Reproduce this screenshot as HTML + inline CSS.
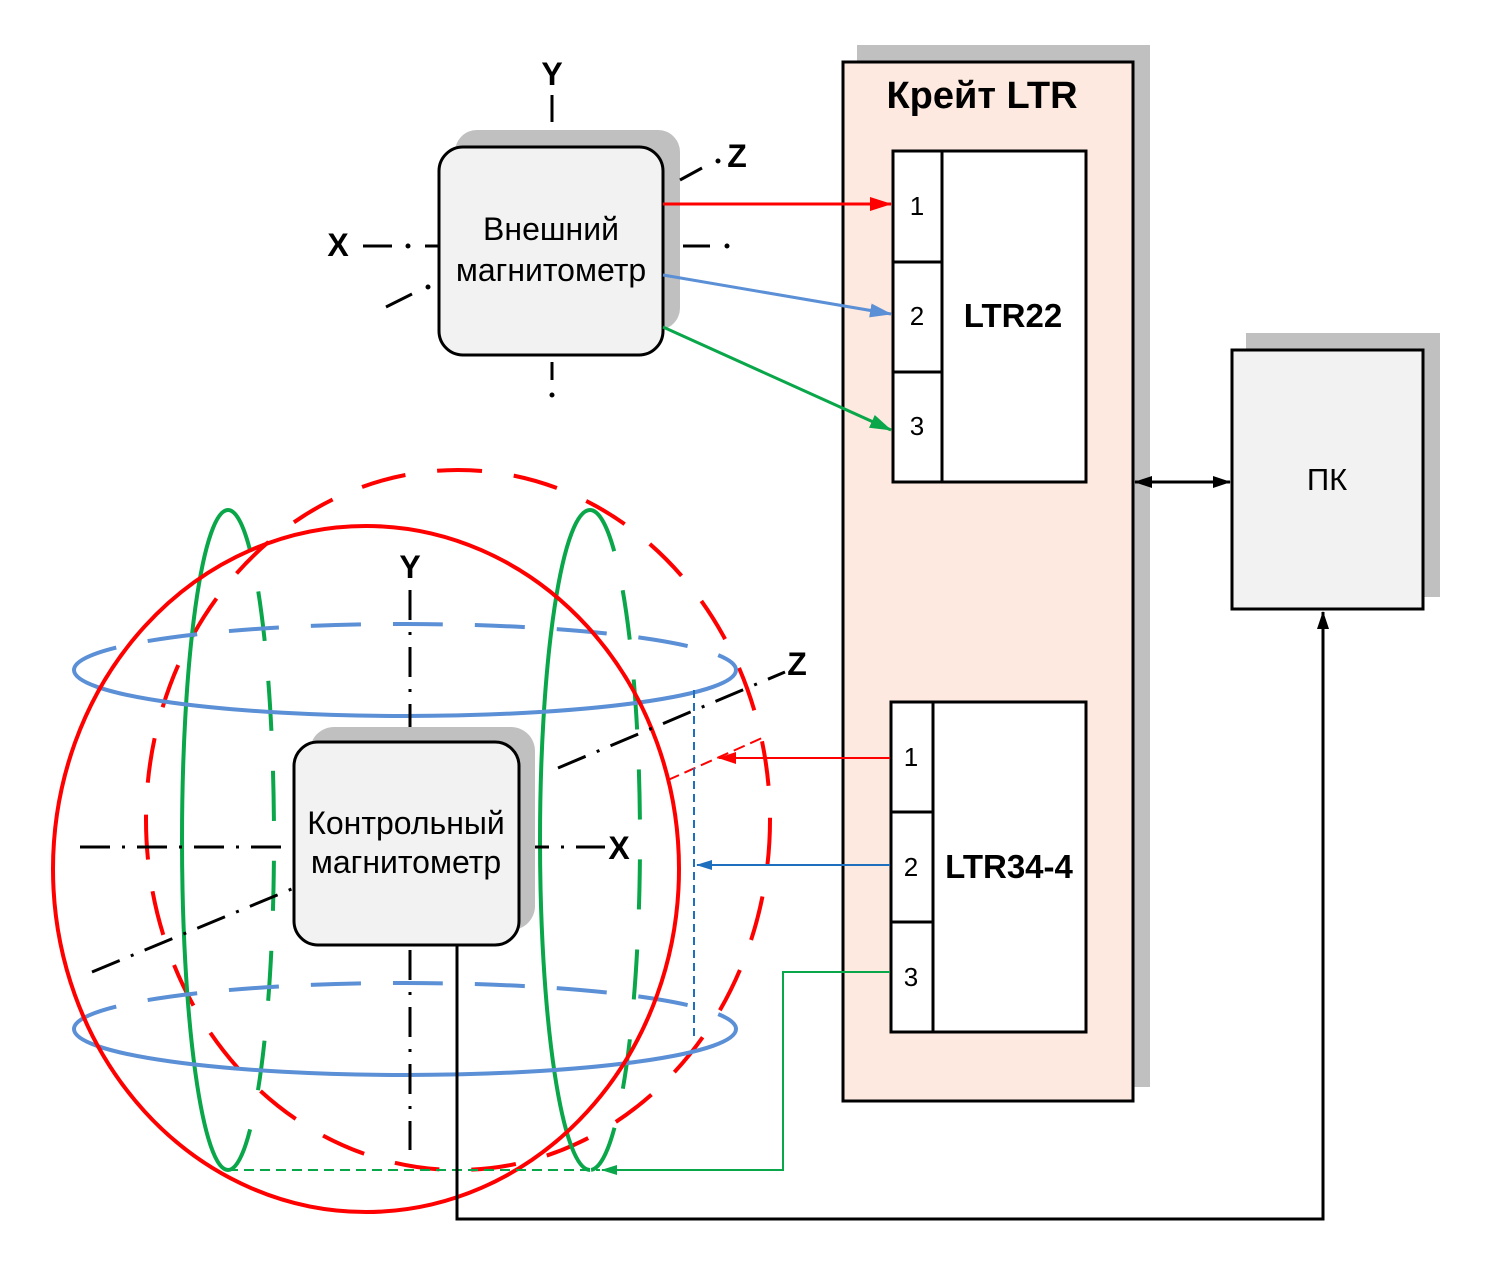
<!DOCTYPE html>
<html><head><meta charset="utf-8"><style>body{margin:0;background:#fff}svg{display:block}text{font-family:"Liberation Sans",sans-serif}</style></head><body>
<svg width="1488" height="1266" viewBox="0 0 1488 1266" xmlns="http://www.w3.org/2000/svg">
<defs>
<marker id="ar" markerWidth="22" markerHeight="14" refX="21" refY="7" orient="auto" markerUnits="userSpaceOnUse" viewBox="0 0 22 14"><path d="M0,0 L22,7 L0,14z" fill="red"/></marker>
<marker id="ab" markerWidth="22" markerHeight="14" refX="21" refY="7" orient="auto" viewBox="0 0 22 14" markerUnits="userSpaceOnUse"><path d="M0,0 L22,7 L0,14z" fill="#5b8fd6"/></marker>
<marker id="ag" markerWidth="22" markerHeight="14" refX="21" refY="7" orient="auto" viewBox="0 0 22 14" markerUnits="userSpaceOnUse"><path d="M0,0 L22,7 L0,14z" fill="#0aa64a"/></marker>
<marker id="ar2" markerWidth="18" markerHeight="12" refX="17" refY="6" orient="auto" markerUnits="userSpaceOnUse" viewBox="0 0 18 12"><path d="M0,0 L18,6 L0,12z" fill="red"/></marker>
<marker id="ab2" markerWidth="16" markerHeight="10" refX="15" refY="5" orient="auto" viewBox="0 0 16 10" markerUnits="userSpaceOnUse"><path d="M0,0 L16,5 L0,10z" fill="#1f6fbf"/></marker>
<marker id="ag2" markerWidth="16" markerHeight="10" refX="15" refY="5" orient="auto" viewBox="0 0 16 10" markerUnits="userSpaceOnUse"><path d="M0,0 L16,5 L0,10z" fill="#0aa64a"/></marker>
<marker id="ak" markerWidth="18" markerHeight="12" refX="17" refY="6" orient="auto-start-reverse" viewBox="0 0 18 12" markerUnits="userSpaceOnUse"><path d="M0,0 L18,6 L0,12z" fill="#000"/></marker>
</defs>

<rect x="857" y="45" width="293" height="1042" fill="#c0c0c0"/>
<rect x="843" y="62" width="290" height="1039" fill="#fde9df" stroke="#000" stroke-width="3"/>
<text x="982" y="108" font-size="38" font-weight="bold" text-anchor="middle">Крейт LTR</text>
<rect x="893" y="151" width="193" height="331" fill="#fff" stroke="#000" stroke-width="3"/>
<line x1="942" y1="151" x2="942" y2="482" stroke="#000" stroke-width="3"/>
<line x1="893" y1="262" x2="942" y2="262" stroke="#000" stroke-width="3"/>
<line x1="893" y1="372" x2="942" y2="372" stroke="#000" stroke-width="3"/>
<g font-size="26" text-anchor="middle"><text x="917" y="215">1</text><text x="917" y="325">2</text><text x="917" y="435">3</text></g>
<text x="1013" y="327" font-size="33" font-weight="bold" text-anchor="middle">LTR22</text>
<rect x="891" y="702" width="195" height="330" fill="#fff" stroke="#000" stroke-width="3"/>
<line x1="933" y1="702" x2="933" y2="1032" stroke="#000" stroke-width="3"/>
<line x1="891" y1="812" x2="933" y2="812" stroke="#000" stroke-width="3"/>
<line x1="891" y1="922" x2="933" y2="922" stroke="#000" stroke-width="3"/>
<g font-size="26" text-anchor="middle"><text x="911" y="766">1</text><text x="911" y="876">2</text><text x="911" y="986">3</text></g>
<text x="1009" y="878" font-size="33" font-weight="bold" text-anchor="middle">LTR34-4</text>

<rect x="1246" y="333" width="194" height="264" fill="#c0c0c0"/>
<rect x="1232" y="350" width="191" height="259" fill="#f2f2f2" stroke="#000" stroke-width="3"/>
<text x="1327" y="490" font-size="31" text-anchor="middle">ПК</text>
<line x1="1135" y1="482" x2="1230" y2="482" stroke="#000" stroke-width="3" marker-start="url(#ak)" marker-end="url(#ak)"/>

<rect x="455" y="130" width="225" height="200" rx="22" fill="#c0c0c0"/>
<rect x="439" y="147" width="224" height="208" rx="24" fill="#f2f2f2" stroke="#000" stroke-width="3"/>
<text x="551" y="240" font-size="32" text-anchor="middle">Внешний</text>
<text x="551" y="281" font-size="32" text-anchor="middle">магнитометр</text>
<g stroke="#000" stroke-width="3">
<line x1="552" y1="95" x2="552" y2="122"/><line x1="552" y1="362" x2="552" y2="380"/><circle cx="552" cy="395" r="1" />
<line x1="363" y1="246" x2="392" y2="246"/><line x1="425" y1="246" x2="439" y2="246"/><circle cx="408" cy="246" r="1"/>
<line x1="683" y1="246" x2="710" y2="246"/><circle cx="727" cy="246" r="1"/>
<line x1="680" y1="180" x2="702" y2="168"/><circle cx="718" cy="161" r="1"/>
<line x1="386" y1="307" x2="412" y2="294"/><circle cx="428" cy="287" r="1"/>
</g>
<g font-size="32" font-weight="bold" text-anchor="middle"><text x="552" y="85">Y</text><text x="338" y="256">X</text><text x="737" y="167">Z</text></g>
<line x1="663" y1="204" x2="891" y2="204" stroke="red" stroke-width="3" marker-end="url(#ar)"/>
<line x1="663" y1="275" x2="891" y2="314" stroke="#5b8fd6" stroke-width="3" marker-end="url(#ab)"/>
<line x1="663" y1="327" x2="891" y2="430" stroke="#0aa64a" stroke-width="3" marker-end="url(#ag)"/>

<ellipse cx="458" cy="820" rx="312" ry="350" fill="none" stroke="red" stroke-width="4" stroke-dasharray="45,32"/>
<path d="M228,510 A46,330 0 0,0 228,1170" fill="none" stroke="#0aa64a" stroke-width="4"/>
<path d="M228,510 A46,330 0 0,1 228,1170" fill="none" stroke="#0aa64a" stroke-width="4" stroke-dasharray="50,40"/>
<path d="M590,510 A50,330 0 0,0 590,1170" fill="none" stroke="#0aa64a" stroke-width="4"/>
<path d="M590,510 A50,330 0 0,1 590,1170" fill="none" stroke="#0aa64a" stroke-width="4" stroke-dasharray="50,40"/>
<path d="M74,670 A331,46 0 0,0 736,670" fill="none" stroke="#5b8fd6" stroke-width="4"/>
<path d="M74,670 A331,46 0 0,1 736,670" fill="none" stroke="#5b8fd6" stroke-width="4" stroke-dasharray="50,32"/>
<path d="M74,1029 A331,46 0 0,0 736,1029" fill="none" stroke="#5b8fd6" stroke-width="4"/>
<path d="M74,1029 A331,46 0 0,1 736,1029" fill="none" stroke="#5b8fd6" stroke-width="4" stroke-dasharray="50,32"/>
<ellipse cx="366" cy="869" rx="313" ry="343" fill="none" stroke="red" stroke-width="4"/>

<g stroke="#000" stroke-width="3" stroke-dasharray="30,12,3,12" fill="none">
<line x1="410" y1="590" x2="410" y2="742"/><line x1="410" y1="950" x2="410" y2="1150"/>
<line x1="80" y1="847" x2="294" y2="847"/><line x1="519" y1="847" x2="605" y2="847"/>
<line x1="92" y1="972" x2="294" y2="888"/><line x1="558" y1="768" x2="785" y2="672"/>
</g>
<g font-size="32" font-weight="bold" text-anchor="middle"><text x="410" y="578">Y</text><text x="619" y="859">X</text><text x="797" y="675">Z</text></g>

<rect x="310" y="727" width="225" height="203" rx="24" fill="#c0c0c0"/>
<rect x="294" y="742" width="225" height="203" rx="24" fill="#f2f2f2" stroke="#000" stroke-width="3"/>
<text x="406" y="834" font-size="32" text-anchor="middle">Контрольный</text>
<text x="406" y="873" font-size="32" text-anchor="middle">магнитометр</text>

<line x1="890" y1="758" x2="719" y2="758" stroke="red" stroke-width="2" marker-end="url(#ar2)"/>
<line x1="668" y1="780" x2="762" y2="738" stroke="red" stroke-width="2" stroke-dasharray="12,6"/>
<line x1="890" y1="865" x2="697" y2="865" stroke="#1f6fbf" stroke-width="2" marker-end="url(#ab2)"/>
<line x1="694" y1="690" x2="694" y2="1040" stroke="#1f6fbf" stroke-width="2" stroke-dasharray="8,5"/>
<polyline points="890,972 783,972 783,1170 602,1170" fill="none" stroke="#0aa64a" stroke-width="2" marker-end="url(#ag2)"/>
<line x1="228" y1="1170" x2="600" y2="1170" stroke="#0aa64a" stroke-width="2" stroke-dasharray="10,6"/>
<polyline points="457,945 457,1219 1323,1219 1323,612" fill="none" stroke="#000" stroke-width="3" marker-end="url(#ak)"/>
</svg>
</body></html>
